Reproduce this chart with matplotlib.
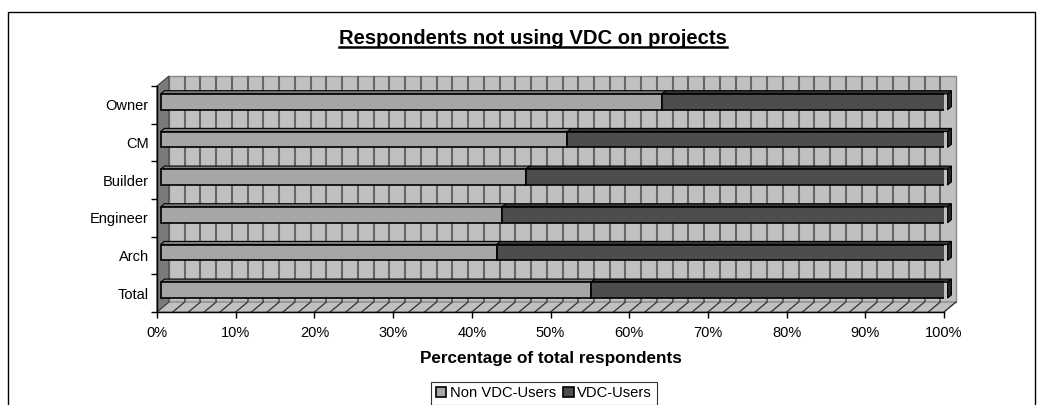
import matplotlib
matplotlib.use('Agg')
import matplotlib.pyplot as plt
from matplotlib.patches import Polygon, Rectangle
from matplotlib.lines import Line2D
import numpy as np

plt.rcParams['font.family'] = ['Liberation Sans', 'DejaVu Sans']

# ---- data ----
categories = ['Total', 'Arch', 'Engineer', 'Builder', 'CM', 'Owner']
non_vdc_users = [54.7, 42.7, 43.4, 46.4, 51.7, 63.7]
vdc_users = [45.3, 57.3, 56.6, 53.6, 48.3, 36.3]
series_names = ['Non VDC-Users', 'VDC-Users']
x_ticks = [0, 10, 20, 30, 40, 50, 60, 70, 80, 90, 100]
x_tick_labels = ['0%', '10%', '20%', '30%', '40%', '50%', '60%', '70%', '80%', '90%', '100%']
title = 'Respondents not using VDC on projects'
x_label = 'Percentage of total respondents'

# ---- style ----
W, H = 1043, 405
light = '#A6A6A6'
light_top = '#7E7E7E'
dark = '#4D4D4D'
dark_top = '#343434'
dark_end = '#262626'
wall = '#C0C0C0'

fig = plt.figure(figsize=(W / 100, H / 100), dpi=100)
fig.patch.set_facecolor('white')

# outer chart border
fig.patches.append(Rectangle((8 / W, -0.2), (1035 - 8) / W, 1.2 - 12 / H,
                             transform=fig.transFigure, fill=False,
                             edgecolor='black', lw=1.0))

ax = fig.add_axes([157 / W, 1 - 312 / H, (944 - 157) / W, (312 - 86) / H])
ax.set_xlim(0, 100)
ax.set_ylim(-0.5, len(categories) - 0.5)
ax.patch.set_visible(False)

# depth offsets in data units (3-D look)
DX = 12 * 100 / 787
DY = 10 * len(categories) / 226
y0, y1 = -0.5, len(categories) - 0.5

# back wall
ax.add_patch(Rectangle((DX, y0 + DY), 100, y1 - y0, facecolor=wall,
                       edgecolor='#8a8a8a', lw=1.0, zorder=0.5, clip_on=False))
# gridlines on the wall and floor
for g in np.arange(2, 100, 2):
    ax.plot([g + DX, g + DX], [y0 + DY, y1 + DY], color='#666666', lw=1.5,
            zorder=0.6, clip_on=False, solid_capstyle='butt')
# floor
ax.add_patch(Polygon([(0, y0), (100, y0), (100 + DX, y0 + DY), (DX, y0 + DY)],
                     closed=True, facecolor=wall, edgecolor='#808080', lw=0.8,
                     zorder=0.7, clip_on=False))
for g in np.arange(2, 101, 2):
    ax.plot([g, g + DX], [y0, y0 + DY], color='#303030', lw=0.9,
            zorder=0.8, clip_on=False)
# left wall
ax.add_patch(Polygon([(0, y0), (DX, y0 + DY), (DX, y1 + DY), (0, y1)],
                     closed=True, facecolor='#7a7a7a', edgecolor='#404040',
                     lw=0.8, zorder=0.9, clip_on=False))

# bars
f1, f2 = 0.3, 0.62
h = 0.42
ypos = np.arange(len(categories))
lefts2 = np.array(non_vdc_users)
b1 = ax.barh(ypos + f1 * DY, non_vdc_users, left=f1 * DX, height=h,
             color=light, edgecolor='black', lw=1.2, zorder=5,
             label=series_names[0])
b2 = ax.barh(ypos + f1 * DY, vdc_users, left=lefts2 + f1 * DX, height=h,
             color=dark, edgecolor='black', lw=1.2, zorder=5,
             label=series_names[1])

for i, c in enumerate(ypos):
    segs = [(0, non_vdc_users[i], light_top), (non_vdc_users[i],
            non_vdc_users[i] + vdc_users[i], dark_top)]
    top = c + h / 2
    bot = c - h / 2
    for a, b, col in segs:
        ax.add_patch(Polygon([(a + f1 * DX, top + f1 * DY), (b + f1 * DX, top + f1 * DY),
                              (b + f2 * DX, top + f2 * DY), (a + f2 * DX, top + f2 * DY)],
                             closed=True, facecolor=col, edgecolor='black',
                             lw=0.8, zorder=4, clip_on=False))
    b = non_vdc_users[i] + vdc_users[i]
    ax.add_patch(Polygon([(b + f1 * DX, bot + f1 * DY), (b + f2 * DX, bot + f2 * DY),
                          (b + f2 * DX, top + f2 * DY), (b + f1 * DX, top + f1 * DY)],
                         closed=True, facecolor=dark_end, edgecolor='black',
                         lw=0.8, zorder=4, clip_on=False))

# axes
for s in ['top', 'right']:
    ax.spines[s].set_visible(False)
for s in ['left', 'bottom']:
    ax.spines[s].set_color('black')
    ax.spines[s].set_linewidth(1.0)
    ax.spines[s].set_zorder(6)

ax.set_yticks(ypos)
ax.set_yticklabels(categories, fontsize=10.5)
ax.set_yticks(np.arange(y0, y1 + 0.01, 1), minor=True)
ax.tick_params(axis='y', which='major', length=0, pad=6)
ax.tick_params(axis='y', which='minor', length=4, width=1, direction='out')
ax.set_xticks(x_ticks)
ax.set_xticklabels(x_tick_labels, fontsize=10.5)
ax.tick_params(axis='x', which='major', length=4, width=1, direction='out', pad=6)

fig.text(551 / W, 1 - 358 / H, x_label, ha='center', va='center',
         fontsize=12.3, fontweight='bold')

t = fig.text(533 / W, 1 - 39 / H, title, ha='center', va='center',
             fontsize=14.6, fontweight='bold')

leg = fig.legend(handles=[b1, b2], labels=series_names, loc='upper center',
                 bbox_to_anchor=(544 / W, 1 - 382 / H), ncol=2, fontsize=10.6,
                 frameon=True, fancybox=False, edgecolor='black',
                 handlelength=0.7, handleheight=0.7, handletextpad=0.25,
                 columnspacing=0.5, borderpad=0.3, borderaxespad=0)
leg.get_frame().set_linewidth(0.8)

fig.canvas.draw()
bb = t.get_window_extent(fig.canvas.get_renderer())
fig.add_artist(Line2D([bb.x0 / fig.bbox.width, bb.x1 / fig.bbox.width],
                      [bb.y0 / fig.bbox.height + 0.003] * 2,
                      transform=fig.transFigure, color='black', lw=1.8))

fig.savefig('out.png', dpi=100)
